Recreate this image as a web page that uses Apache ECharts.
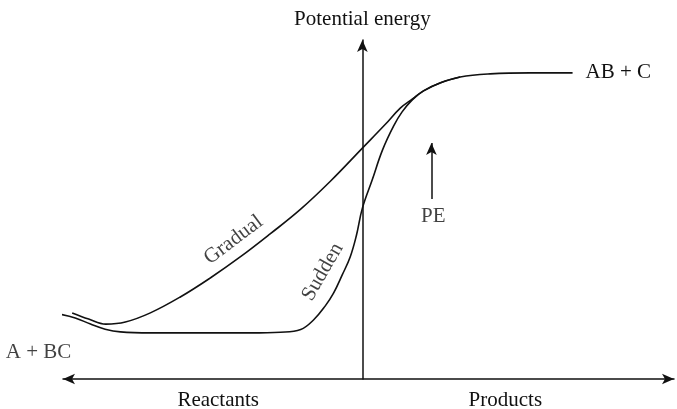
<!DOCTYPE html>
<html>
<head>
<meta charset="utf-8">
<script src="https://cdn.jsdelivr.net/npm/echarts@6/dist/echarts.min.js"></script>
<style>
  html, body { margin: 0; padding: 0; background: #fff; }
  #chart { width: 677px; height: 409px; }
</style>
</head>
<body>
<div id="chart"></div>
<script>
// Reaction coordinate (0 = transition region) and potential energy (0..100)
const gradualX = [-47.5, -44.8, -42.0, -38.8, -34.7, -29.8, -24.9, -20.0, -15.1, -10.1, -5.2, 0, 3.8, 6.2, 8.2, 10.0, 12.8, 16.0, 20.9, 27.5, 34.4];
const gradualY = [19.5, 17.7, 16.2, 16.8, 19.5, 24.2, 29.8, 36.0, 42.8, 50.1, 58.4, 68.1, 75.2, 79.9, 82.6, 85.0, 87.4, 89.1, 90.0, 90.3, 90.3];

const suddenX = [-49.8, -47.0, -44.5, -42.1, -39.6, -34.7, -26.5, -18.3, -13.4, -10.1, -8.0, -6.1, -4.7, -3.3, -2.0, -1.0, 0, 1.6, 3.3, 5.1, 6.5, 8.2, 10.0, 12.8, 16.0];
const suddenY = [19.2, 18.0, 16.2, 14.7, 13.9, 13.6, 13.6, 13.6, 13.8, 14.6, 17.4, 21.5, 25.4, 30.7, 36.0, 42.2, 50.4, 58.7, 67.6, 74.6, 78.8, 82.4, 85.0, 87.4, 89.1];

// Stage names along the reaction coordinate
const stageNames = ['Reactants', 'Products'];
const stageX = [-23.6, 23.4];

// Text annotations
const noteNames = ['A + BC', 'Gradual', 'Sudden', 'PE'];
const noteX = [-53.0, -21.1, -6.5, 11.6];
const noteY = [7.7, 41.0, 31.6, 47.8];
const noteRotate = [0, 37, 60, 0];

// PE arrow (reaction coordinate, energy from -> to)
const peArrowX = 11.3;
const peArrowY = [53.1, 69.6];

const productLabel = 'AB + C';

const ink = '#111';
const serif = 'Liberation Serif, Times New Roman, serif';
const fontSize = 21;

const zip = (xs, ys) => xs.map((x, i) => [x, ys[i]]);

const chart = echarts.init(document.getElementById('chart'), null, { renderer: 'canvas' });

chart.setOption({
  animation: false,
  backgroundColor: '#fff',
  grid: { left: 63, right: 3, top: 40, bottom: 30, containLabel: false, outerBoundsMode: 'none' },
  xAxis: {
    type: 'value', min: -49, max: 51,
    splitLine: { show: false },
    axisTick: { show: false },
    axisLine: {
      show: true, onZero: true,
      symbol: ['arrow', 'arrow'], symbolSize: [8, 12],
      lineStyle: { color: ink, width: 1.5 }
    },
    axisLabel: {
      show: true,
      customValues: stageX,
      formatter: (v) => stageNames[stageX.indexOf(v)] || '',
      color: ink, fontFamily: serif, fontSize: fontSize, margin: 11
    }
  },
  yAxis: {
    type: 'value', min: 0, max: 100,
    splitLine: { show: false },
    axisTick: { show: false },
    axisLabel: { show: false },
    axisLine: {
      show: true, onZero: true,
      symbol: ['none', 'arrow'], symbolSize: [8, 12],
      lineStyle: { color: ink, width: 1.5 }
    },
    name: 'Potential energy',
    nameLocation: 'end',
    nameGap: 10,
    nameTextStyle: { color: ink, fontFamily: serif, fontSize: fontSize }
  },
  series: [
    {
      name: 'Gradual', type: 'line', data: zip(gradualX, gradualY),
      smooth: 0.4, showSymbol: false, clip: false,
      lineStyle: { color: ink, width: 1.6 },
      endLabel: {
        show: true, formatter: productLabel, distance: 13,
        color: ink, fontFamily: serif, fontSize: fontSize
      }
    },
    {
      name: 'Sudden', type: 'line', data: zip(suddenX, suddenY),
      smooth: 0.4, showSymbol: false, clip: false,
      lineStyle: { color: ink, width: 1.6 },
      markLine: {
        silent: true,
        symbol: ['none', 'arrow'], symbolSize: [8, 12],
        lineStyle: { color: ink, width: 1.5, type: 'solid' },
        label: { show: false },
        data: [[{ coord: [peArrowX, peArrowY[0]] }, { coord: [peArrowX, peArrowY[1]] }]]
      }
    },
    {
      name: 'notes', type: 'scatter', clip: false, symbolSize: 0,
      data: noteNames.map((n, i) => ({
        value: [noteX[i], noteY[i]], name: n,
        label: { rotate: noteRotate[i] }
      })),
      label: {
        show: true, position: 'inside', formatter: (p) => p.name,
        color: ink, fontFamily: serif, fontSize: fontSize
      }
    }
  ]
});
</script>
</body>
</html>
